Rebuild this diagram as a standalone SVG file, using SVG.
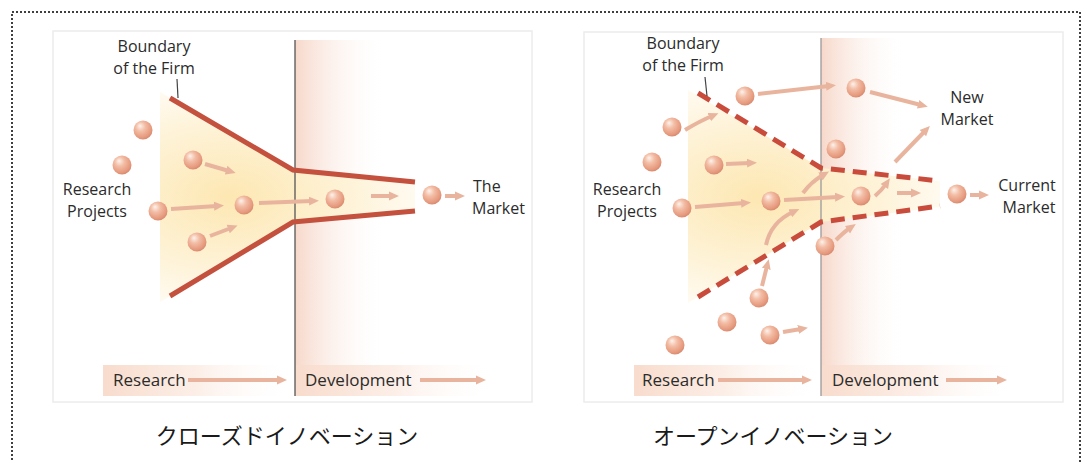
<svg xmlns="http://www.w3.org/2000/svg" width="1083" height="462" viewBox="0 0 1083 462">
<defs>
<style>
.txt{font-family:"Open Sans","Liberation Sans",sans-serif;font-size:17px;fill:#2b2b2b}
.two{font-size:16px}
.jp{font-family:"Noto Sans CJK JP",sans-serif;font-size:22px;fill:#1a1a1a}
.panel{fill:#ffffff;stroke:#ececec;stroke-width:1.5}
.ball{fill:url(#ball)}
.arr{fill:none;stroke:#e9b49d;stroke-width:4;marker-end:url(#ah)}
.solid{fill:none;stroke:#c4503e;stroke-width:5}
.dash{fill:none;stroke:#c94b3b;stroke-width:5;stroke-dasharray:14 8}
.lead{stroke:#444;stroke-width:1.2}
</style>
<marker id="ah" viewBox="0 0 10 10" markerUnits="userSpaceOnUse" markerWidth="10" markerHeight="10" refX="3" refY="5" orient="auto">
<path d="M0,0.5 L10,5 L0,9.5 z" fill="#e9b49d"/>
</marker>
<radialGradient id="ball" cx="0.42" cy="0.38" r="0.62" fx="0.34" fy="0.28">
<stop offset="0" stop-color="#fdf2ec"/>
<stop offset="0.4" stop-color="#f3bea6"/>
<stop offset="0.85" stop-color="#e69a7e"/>
<stop offset="1" stop-color="#d98b70"/>
</radialGradient>
<linearGradient id="dev" x1="0" y1="0" x2="1" y2="0">
<stop offset="0" stop-color="#f7d8ca"/>
<stop offset="1" stop-color="#ffffff" stop-opacity="0"/>
</linearGradient>
<linearGradient id="lbl" x1="0" y1="0" x2="1" y2="0">
<stop offset="0" stop-color="#f8dccd"/>
<stop offset="0.5" stop-color="#fcefe8"/>
<stop offset="1" stop-color="#ffffff" stop-opacity="0"/>
</linearGradient>
<radialGradient id="glowL" gradientUnits="userSpaceOnUse" cx="230" cy="197" r="200" gradientTransform="translate(230 197) scale(1 0.6) translate(-230 -197)">
<stop offset="0" stop-color="#fde7b2"/>
<stop offset="0.6" stop-color="#fef3d8"/>
<stop offset="1" stop-color="#fffcf5"/>
</radialGradient>
<radialGradient id="glowR" gradientUnits="userSpaceOnUse" cx="758" cy="197" r="200" gradientTransform="translate(758 197) scale(1 0.6) translate(-758 -197)">
<stop offset="0" stop-color="#fde7b2"/>
<stop offset="0.6" stop-color="#fef3d8"/>
<stop offset="1" stop-color="#fffcf5"/>
</radialGradient>
</defs>

<rect x="12" y="12" width="1068" height="470" fill="#ffffff" stroke="#000" stroke-width="1.5" stroke-dasharray="2 2"/>

<!-- LEFT PANEL: closed innovation -->
<g id="panel-closed">
<rect class="panel" x="53" y="31" width="479" height="371"/>
<rect x="295" y="40" width="90" height="356" fill="url(#dev)"/>
<polygon points="160,92 295,170 415,182 415,211 295,222 160,302" fill="url(#glowL)"/>
<rect x="103" y="365" width="190" height="31" fill="url(#lbl)"/>
<rect x="296" y="365" width="200" height="31" fill="url(#lbl)"/>
<line x1="295" y1="40" x2="295" y2="396" stroke="#555" stroke-width="1.3"/>
</g>

<!-- RIGHT PANEL: open innovation -->
<g id="panel-open">
<rect class="panel" x="584" y="32" width="479" height="370"/>
<rect x="821" y="38" width="85" height="358" fill="url(#dev)"/>
<polygon points="688,90 821,168 940,181 940,207 821,222 688,303" fill="url(#glowR)"/>
<rect x="634" y="365" width="186" height="31" fill="url(#lbl)"/>
<rect x="822" y="365" width="195" height="31" fill="url(#lbl)"/>
<line x1="821" y1="38" x2="821" y2="396" stroke="#9a9a9a" stroke-width="1.3"/>
</g>

<!-- connectors -->
<g id="connectors">
<path class="arr" d="M205,164 L229,171"/>
<path class="arr" d="M171,209 L217,206"/>
<path class="arr" d="M210,236 L231,228"/>
<path class="arr" d="M259,203 L312,201"/>
<path class="arr" d="M371,196 L392,196"/>
<path class="arr" d="M445,196 L458,196"/>
<path class="arr" d="M188,380 L280,380"/>
<path class="arr" d="M420,380 L479,380"/>

<path class="arr" d="M685,130 Q700,121 712,116"/>
<path class="arr" d="M758,94 L829,86"/>
<path class="arr" d="M870,92 L921,105"/>
<path class="arr" d="M726,164 L750,163"/>
<path class="arr" d="M695,207 L744,203"/>
<path class="arr" d="M784,200 L838,197"/>
<path class="arr" d="M803,193 Q811,182 823,175"/>
<path class="arr" d="M875,196 Q882,190 886,184"/>
<path class="arr" d="M895,162 L925,131"/>
<path class="arr" d="M897,193 L914,193"/>
<path class="arr" d="M970,195 L982,195"/>
<path class="arr" d="M762,286 L767,266"/>
<path class="arr" d="M766,245 Q771,222 793,212"/>
<path class="arr" d="M836,240 Q844,232 850,228"/>
<path class="arr" d="M783,332 L801,329"/>
<path class="arr" d="M718,380 L805,380"/>
<path class="arr" d="M946,380 L1000,380"/>

<polyline class="solid" points="170,98 293,170 415,182"/>
<polyline class="solid" points="170,296 293,222 415,211"/>
<polyline class="dash" points="698,93 821,168 940,181"/>
<polyline class="dash" points="698,297 821,222 940,206"/>
<line class="lead" x1="177" y1="79" x2="178" y2="98"/>
<line class="lead" x1="705" y1="77" x2="707" y2="96"/>
</g>

<!-- left nodes -->
<g id="l-p1"><circle class="ball" cx="143" cy="130" r="9.5"/></g>
<g id="l-p2"><circle class="ball" cx="122" cy="165" r="9.5"/></g>
<g id="l-p3"><circle class="ball" cx="193" cy="160" r="9.5"/></g>
<g id="l-p4"><circle class="ball" cx="158" cy="211" r="9.5"/></g>
<g id="l-p5"><circle class="ball" cx="244" cy="205" r="9.5"/></g>
<g id="l-p6"><circle class="ball" cx="197" cy="242" r="9.5"/></g>
<g id="l-p7"><circle class="ball" cx="335" cy="199" r="9.5"/></g>
<g id="l-p8"><circle class="ball" cx="432" cy="195" r="9.5"/></g>

<!-- right nodes -->
<g id="r-p1"><circle class="ball" cx="745" cy="96" r="9.5"/></g>
<g id="r-p2"><circle class="ball" cx="856" cy="88" r="9.5"/></g>
<g id="r-p3"><circle class="ball" cx="672" cy="127" r="9.5"/></g>
<g id="r-p4"><circle class="ball" cx="652" cy="162" r="9.5"/></g>
<g id="r-p5"><circle class="ball" cx="714" cy="165" r="9.5"/></g>
<g id="r-p6"><circle class="ball" cx="682" cy="208" r="9.5"/></g>
<g id="r-p7"><circle class="ball" cx="771" cy="201" r="9.5"/></g>
<g id="r-p8"><circle class="ball" cx="836" cy="149" r="9.5"/></g>
<g id="r-p9"><circle class="ball" cx="861" cy="196" r="9.5"/></g>
<g id="r-p10"><circle class="ball" cx="957" cy="194" r="9.5"/></g>
<g id="r-p11"><circle class="ball" cx="825" cy="246" r="9.5"/></g>
<g id="r-p12"><circle class="ball" cx="759" cy="298" r="9.5"/></g>
<g id="r-p13"><circle class="ball" cx="727" cy="322" r="9.5"/></g>
<g id="r-p14"><circle class="ball" cx="770" cy="335" r="9.5"/></g>
<g id="r-p15"><circle class="ball" cx="675" cy="345" r="9.5"/></g>

<!-- labels -->
<g id="l-boundary"><text class="txt two" x="154" y="52" text-anchor="middle">Boundary</text><text class="txt two" x="154" y="74" text-anchor="middle">of the Firm</text></g>
<g id="l-research-projects"><text class="txt two" x="97" y="195" text-anchor="middle">Research</text><text class="txt two" x="97" y="217" text-anchor="middle">Projects</text></g>
<g id="l-market"><text class="txt two" x="473" y="192">The</text><text class="txt two" x="472" y="214">Market</text></g>
<g id="l-research"><text class="txt" x="113" y="386">Research</text></g>
<g id="l-development"><text class="txt" x="305" y="386">Development</text></g>
<g id="l-title"><text class="jp" x="287" y="444" text-anchor="middle">クローズドイノベーション</text></g>

<g id="r-boundary"><text class="txt two" x="683" y="49" text-anchor="middle">Boundary</text><text class="txt two" x="683" y="71" text-anchor="middle">of the Firm</text></g>
<g id="r-research-projects"><text class="txt two" x="627" y="195" text-anchor="middle">Research</text><text class="txt two" x="627" y="217" text-anchor="middle">Projects</text></g>
<g id="r-new-market"><text class="txt two" x="967" y="103" text-anchor="middle">New</text><text class="txt two" x="967" y="125" text-anchor="middle">Market</text></g>
<g id="r-current-market"><text class="txt two" x="1027" y="191" text-anchor="middle">Current</text><text class="txt two" x="1029" y="213" text-anchor="middle">Market</text></g>
<g id="r-research"><text class="txt" x="642" y="386">Research</text></g>
<g id="r-development"><text class="txt" x="832" y="386">Development</text></g>
<g id="r-title"><text class="jp" x="773" y="444" text-anchor="middle">オープンイノベーション</text></g>
</svg>
